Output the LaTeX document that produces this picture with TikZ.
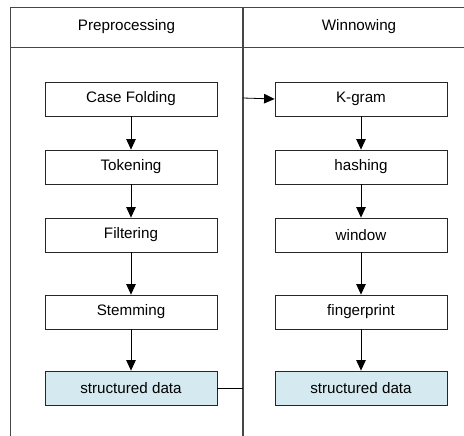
\documentclass[tikz,border=0pt]{standalone}
\usepackage{fontspec}
\setmainfont{Liberation Sans}
\usetikzlibrary{arrows.meta}
\definecolor{sdfill}{RGB}{212,234,240}
\definecolor{lanegray}{RGB}{70,70,70}
\begin{document}
\begin{tikzpicture}[x=1pt,y=-1pt,
  stepbox/.style={draw=black!85,line width=0.8pt,fill=white,minimum width=172pt,minimum height=34pt,inner sep=0pt,font=\fontsize{15.2}{17}\selectfont},
  databox/.style={stepbox,fill=sdfill},
  flow/.style={line width=0.8pt,-{Triangle[width=9.5pt,length=10.5pt]}},
  lane/.style={draw=lanegray,line width=1pt},
  lbl/.style={font=\fontsize{15.2}{17}\selectfont}]
\useasboundingbox (0,0) rectangle (464,436);
% lanes
\draw[lane] (10,436) -- (10,7.5) -- (464,7.5);
\draw[lane] (10,48) -- (464,48);
\draw[lane,line width=1.3pt] (243,7.5) -- (243,436);
\node[lbl] (h1) at (126.5,27) {Preprocessing};
\node[lbl] (h2) at (359,27) {Winnowing};
% left column
\node[stepbox] (cf) at (131,99) {Case Folding};
\node[stepbox] (tk) at (131,167) {Tokening};
\node[stepbox] (fl) at (131,235) {Filtering};
\node[stepbox] (st) at (131,312) {Stemming};
\node[databox] (sd1) at (131,388) {structured data};
% right column
\node[stepbox] (kg) at (361,99) {K-gram};
\node[stepbox] (hs) at (361,167) {hashing};
\node[stepbox] (wd) at (361,235) {window};
\node[stepbox] (fp) at (361,312) {fingerprint};
\node[databox] (sd2) at (361,388) {structured data};
% connectors
\draw[flow] (cf) -- (tk);
\draw[flow] (tk) -- (fl);
\draw[flow] (fl) -- (st);
\draw[flow] (st) -- (sd1);
\draw[flow] (kg) -- (hs);
\draw[flow] (hs) -- (wd);
\draw[flow] (wd) -- (fp);
\draw[flow] (fp) -- (sd2);
\coordinate (jin) at (243,98);
\coordinate (jout) at (243,388);
\draw[line width=0.8pt] (sd1.east) -- (jout);
\draw[flow] (jin) -- (kg.west);
\end{tikzpicture}
\end{document}
